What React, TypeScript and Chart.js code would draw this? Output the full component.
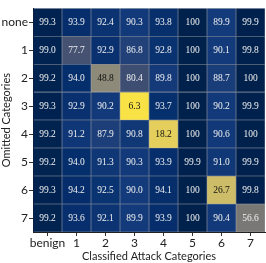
import React, { useEffect, useRef } from "react";
import { Chart, registerables } from "chart.js";

Chart.register(...registerables);

const columns = ["benign", "1", "2", "3", "4", "5", "6", "7"];
const rows = ["none", "1", "2", "3", "4", "5", "6", "7"];

const rowNone = [99.3, 93.9, 92.4, 90.3, 93.8, 100, 89.9, 99.9];
const row1 = [99.0, 77.7, 92.9, 86.8, 92.8, 100, 90.1, 99.8];
const row2 = [99.2, 94.0, 48.8, 80.4, 89.8, 100, 88.7, 100];
const row3 = [99.3, 92.9, 90.2, 6.3, 93.7, 100, 90.2, 99.9];
const row4 = [99.2, 91.2, 87.9, 90.8, 18.2, 100, 90.6, 100];
const row5 = [99.2, 94.0, 91.3, 90.3, 93.9, 99.9, 91.0, 99.9];
const row6 = [99.3, 94.2, 92.5, 90.0, 94.1, 100, 26.7, 99.8];
const row7 = [99.2, 93.6, 92.1, 89.9, 93.9, 100, 90.4, 56.6];
const values = [rowNone, row1, row2, row3, row4, row5, row6, row7];

const vmin = 0;
const vmax = 100;

const stops: [number, string][] = [
  [0.0, "#00214c"],
  [0.05, "#022b68"],
  [0.1, "#133a7a"],
  [0.2, "#404f73"],
  [0.3, "#575d6d"],
  [0.4, "#707173"],
  [0.5, "#8a8779"],
  [0.6, "#a69d75"],
  [0.7, "#c4b56c"],
  [0.8, "#e0cb5f"],
  [0.9, "#f5df4c"],
  [1.0, "#fee838"],
];

function hexToRgb(h: string) {
  return [parseInt(h.slice(1, 3), 16), parseInt(h.slice(3, 5), 16), parseInt(h.slice(5, 7), 16)];
}

function colorFor(v: number) {
  const t = Math.max(0, Math.min(1, (vmax - v) / (vmax - vmin)));
  let i = 0;
  while (i < stops.length - 2 && t > stops[i + 1][0]) i++;
  const f = (t - stops[i][0]) / (stops[i + 1][0] - stops[i][0]);
  const a = hexToRgb(stops[i][1]);
  const b = hexToRgb(stops[i + 1][1]);
  return a.map((x, k) => Math.round(x + (b[k] - x) * f));
}

function lum(c: number[]) {
  const s = c.map((x) => {
    const y = x / 255;
    return y <= 0.03928 ? y / 12.92 : Math.pow((y + 0.055) / 1.055, 2.4);
  });
  return 0.2126 * s[0] + 0.7152 * s[1] + 0.0722 * s[2];
}

const labelPlugin = {
  id: "cellLabels",
  afterDatasetsDraw(chart: any) {
    const ctx = chart.ctx;
    ctx.save();
    ctx.font = "9.5px 'Liberation Serif', serif";
    ctx.textAlign = "center";
    ctx.textBaseline = "middle";
    chart.data.datasets.forEach((ds: any, di: number) => {
      const meta = chart.getDatasetMeta(di);
      meta.data.forEach((el: any, ci: number) => {
        const v = values[di][ci];
        const c = colorFor(v);
        ctx.fillStyle = lum(c) > 0.24 ? "#111111" : "#f0f0f0";
        const cy = (el.y + el.base) / 2;
        ctx.fillText(v === 100 ? "100" : v.toFixed(1), el.x, cy + 0.5);
      });
    });
    ctx.restore();
  },
};

export default function App() {
  const ref = useRef<HTMLCanvasElement>(null);
  useEffect(() => {
    document.body.style.margin = "0";
    const tickFont = { family: "Lato, 'DejaVu Sans', sans-serif", size: 12 };
    const chart = new Chart(ref.current!, {
      type: "bar",
      data: {
        labels: columns,
        datasets: rows.map((r, i) => ({
          label: r,
          data: values[i].map(() => [i, i + 1]) as any,
          backgroundColor: values[i].map((v) => {
            const c = colorFor(v);
            return `rgb(${c[0]},${c[1]},${c[2]})`;
          }),
          borderColor: "rgba(5,15,35,0.35)",
          borderWidth: 0.6,
          borderSkipped: false,
          barPercentage: 1,
          categoryPercentage: 1,
          grouped: false,
        })),
      },
      options: {
        animation: false,
        responsive: true,
        maintainAspectRatio: false,
        layout: { padding: { top: 0, right: 1, left: 0, bottom: 0 } },
        plugins: { legend: { display: false }, tooltip: { enabled: false } },
        scales: {
          x: {
            type: "category",
            offset: true,
            grid: { offset: false, drawOnChartArea: false, drawTicks: true, tickLength: 4, color: "#333" },
            border: { display: true, color: "#222" },
            ticks: { font: tickFont, color: "#222", padding: 0, maxRotation: 0, autoSkip: false },
            title: {
              display: true,
              text: "Classified Attack Categories",
              font: { family: "Lato, 'DejaVu Sans', sans-serif", size: 11 },
              color: "#222",
              padding: 0,
            },
            afterFit: (s: any) => {
              s.height = 31;
            },
          },
          y: {
            type: "linear",
            min: 0,
            max: 8,
            reverse: true,
            afterBuildTicks: (s: any) => {
              s.ticks = rows.map((_, i) => ({ value: i + 0.5 }));
            },
            grid: { drawOnChartArea: false, drawTicks: true, tickLength: 4, color: "#333" },
            border: { display: true, color: "#222" },
            ticks: {
              font: tickFont,
              color: "#222",
              padding: 1,
              autoSkip: false,
              callback: (v: any) => rows[Math.floor(Number(v))],
            },
            title: {
              display: true,
              text: "Omitted Categories",
              font: { family: "Lato, 'DejaVu Sans', sans-serif", size: 11 },
              color: "#222",
              padding: 0,
            },
            afterFit: (s: any) => {
              s.width = 33;
            },
          },
        },
      },
      plugins: [labelPlugin],
    });
    return () => chart.destroy();
  }, []);
  return (
    <div style={{ width: 266, height: 263, position: "relative" }}>
      <canvas ref={ref} />
    </div>
  );
}
